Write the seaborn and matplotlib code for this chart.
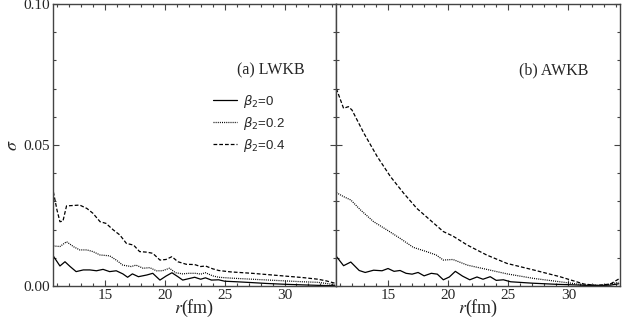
import numpy as np
import pandas as pd
import matplotlib
matplotlib.use("Agg")
import matplotlib.pyplot as plt
from matplotlib.ticker import MultipleLocator
import seaborn as sns

sns.set_style("ticks")

# ---------------- data ----------------
# (a) LWKB
lw_r0 = [10.7, 11.25, 11.67, 12.1, 12.6, 13.2, 13.75, 14.3, 14.85, 15.4, 15.95, 16.5, 16.9,
         17.3, 17.8, 18.5, 19.0, 19.6, 20.1, 20.6, 21.1, 21.5, 22.0, 22.5, 23.0, 23.4, 23.9,
         24.5, 25.0, 26.0, 27.3, 28.5, 30.1, 31.5, 33.0, 34.2]
lw_s0 = [0.0106, 0.0071, 0.0086, 0.0069, 0.0051, 0.0057, 0.0057, 0.0054, 0.0059, 0.0051,
         0.0054, 0.0043, 0.0031, 0.0043, 0.0033, 0.0039, 0.0045, 0.0021, 0.0035, 0.0047,
         0.0033, 0.0021, 0.0026, 0.0031, 0.0024, 0.0029, 0.0021, 0.0022, 0.0017, 0.0015,
         0.0012, 0.0009, 0.0006, 0.0004, 0.0002, 0.0001]

lw_r2 = [10.7, 11.25, 11.8, 12.4, 12.9, 13.5, 14.0, 14.6, 15.4, 15.95, 16.5, 17.2, 17.6,
         18.2, 18.75, 19.3, 19.8, 20.4, 20.9, 21.5, 22.0, 22.6, 23.0, 23.4, 24.0, 24.5,
         25.5, 27.3, 28.7, 30.1, 31.5, 32.8, 33.5, 34.2]
lw_s2 = [0.0142, 0.0140, 0.0157, 0.0139, 0.0128, 0.0128, 0.0122, 0.0110, 0.0107, 0.0092,
         0.0074, 0.0069, 0.0074, 0.0063, 0.0065, 0.0054, 0.0054, 0.0063, 0.0047, 0.0043,
         0.0045, 0.0045, 0.0042, 0.0047, 0.0036, 0.0031, 0.0028, 0.0024, 0.0021, 0.0018,
         0.0015, 0.0013, 0.0009, 0.0004]

lw_r4 = [10.7, 11.0, 11.25, 11.5, 11.8, 12.9, 13.5, 14.0, 14.6, 15.1, 15.7, 16.25, 16.8,
         17.4, 17.9, 18.5, 19.0, 19.6, 20.1, 20.6, 21.1, 21.8, 22.5, 23.0, 23.4, 24.0,
         24.5, 25.5, 27.3, 28.7, 30.1, 31.5, 32.8, 33.5, 34.2]
lw_s4 = [0.0334, 0.0270, 0.0228, 0.0230, 0.0284, 0.0287, 0.0275, 0.0258, 0.0228, 0.0222,
         0.0199, 0.0181, 0.0151, 0.0145, 0.0122, 0.0120, 0.0116, 0.0092, 0.0094, 0.0104,
         0.0086, 0.0077, 0.0076, 0.0069, 0.0071, 0.0061, 0.0055, 0.0050, 0.0045, 0.0040,
         0.0035, 0.0030, 0.0024, 0.0018, 0.0010]

# (b) AWKB
aw_r0 = [10.7, 11.3, 11.9, 12.6, 13.1, 13.8, 14.5, 15.0, 15.5, 16.0, 16.5, 17.0, 17.5,
         18.0, 18.6, 19.1, 19.6, 20.1, 20.6, 21.2, 21.8, 22.4, 22.9, 23.5, 24.0, 24.6,
         25.2, 27.0, 29.0, 30.5, 32.0, 33.5, 34.2]
aw_s0 = [0.0105, 0.0072, 0.0085, 0.0055, 0.0048, 0.0056, 0.0054, 0.0062, 0.0052, 0.0055,
         0.0045, 0.0042, 0.0048, 0.0036, 0.0045, 0.0042, 0.0022, 0.0032, 0.0052, 0.0035,
         0.0022, 0.0032, 0.0024, 0.0033, 0.0020, 0.0022, 0.0015, 0.0010, 0.0006, 0.0004,
         0.0001, 0.0003, 0.0008]

aw_r2 = [10.7, 11.3, 11.9, 12.7, 13.8, 14.9, 16.0, 17.1, 18.2, 19.0, 19.6, 20.4, 21.6,
         23.2, 24.9, 27.1, 29.3, 31.3, 33.0, 34.2]
aw_s2 = [0.0331, 0.0317, 0.0305, 0.0270, 0.0228, 0.0199, 0.0169, 0.0137, 0.0122, 0.0110,
         0.0092, 0.0094, 0.0074, 0.0059, 0.0043, 0.0027, 0.0015, 0.0004, 0.0003, 0.0013]

aw_r4 = [10.7, 11.3, 11.7, 12.0, 13.0, 14.1, 15.2, 16.3, 17.4, 18.5, 19.6, 20.4, 21.6,
         23.2, 24.9, 27.1, 29.3, 31.3, 32.4, 33.5, 34.2]
aw_s4 = [0.0700, 0.0630, 0.0636, 0.0624, 0.0541, 0.0459, 0.0388, 0.0329, 0.0275, 0.0234,
         0.0193, 0.0177, 0.0145, 0.0110, 0.0080, 0.0057, 0.0033, 0.0007, 0.0002, 0.0007,
         0.0025]

labels = [r'$\beta_2$=0', r'$\beta_2$=0.2', r'$\beta_2$=0.4']
panel_titles = ['(a) LWKB', '(b) AWKB']
xticks = [15, 20, 25, 30]
yticks = [0.00, 0.05, 0.10]

# ---------------- figure ----------------
fig = plt.figure(figsize=(6.39, 3.22), dpi=100)
ax1 = fig.add_axes([53/639, 36/322, 283/639, 282/322])
ax2 = fig.add_axes([336/639, 36/322, 284/639, 282/322])

styles = ['-', (0, (0.8, 0.9)), (0, (3, 1.6))]
serif = 'Liberation Serif'
spine_col = '#444444'

panels = [
    (ax1, [(lw_r0, lw_s0), (lw_r2, lw_s2), (lw_r4, lw_s4)]),
    (ax2, [(aw_r0, aw_s0), (aw_r2, aw_s2), (aw_r4, aw_s4)]),
]

for i, (ax, series) in enumerate(panels):
    for (r, s), ls, lab in zip(series, styles, labels):
        df = pd.DataFrame({'r': r, 'sigma': s})
        sns.lineplot(data=df, x='r', y='sigma', ax=ax, color='black', linewidth=0.9,
                     linestyle=ls, label=lab, legend=False)
    ax.set_xlim(10.67, 34.3)
    ax.set_ylim(0.0, 0.10)
    ax.set_xticks(xticks)
    ax.set_yticks(yticks)
    ax.xaxis.set_minor_locator(MultipleLocator(1))
    ax.yaxis.set_minor_locator(MultipleLocator(0.01))
    ax.tick_params(which='both', direction='in', top=True, right=True, color=spine_col,
                   width=0.8)
    ax.tick_params(which='major', length=4.5)
    ax.tick_params(which='minor', length=2.5)
    ax.tick_params(axis='both', labelsize=11, pad=2)
    for lbl in ax.get_xticklabels() + ax.get_yticklabels():
        lbl.set_family(serif)
    for sp in ax.spines.values():
        sp.set_color(spine_col)
        sp.set_linewidth(1.0)
    ax.set_xlabel(r'$r$(fm)', fontsize=13, family=serif, math_fontfamily='stix', labelpad=-3)
    ax.text(0.77 if i == 0 else 0.765, 0.765, panel_titles[i], transform=ax.transAxes,
            ha='center', va='center', fontsize=11.5, family=serif)

ax1.set_yticklabels(['0.00', '0.05', '0.10'])
ax1.set_ylabel(r'$\sigma$', fontsize=13, math_fontfamily='stix', labelpad=2)
ax2.set_ylabel('')
ax2.tick_params(labelleft=False)

leg = ax1.legend(loc='upper left', bbox_to_anchor=(0.565, 0.685), frameon=False,
                 handlelength=1.8, handletextpad=0.5, labelspacing=0.38,
                 borderpad=0, borderaxespad=0, prop={'family': 'Liberation Sans', 'size': 9.5})
for t in leg.get_texts():
    t.set_math_fontfamily('dejavusans')

fig.savefig('out.png', dpi=100)
